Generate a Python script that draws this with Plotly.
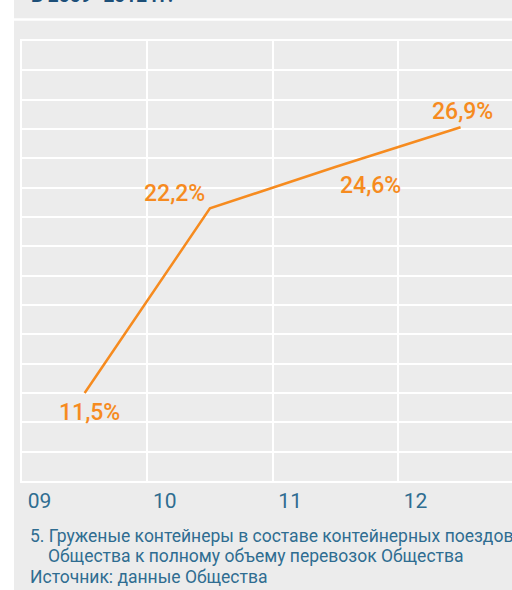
import plotly.graph_objects as go

# ---- data ----
years = [2009, 2010, 2011, 2012]
year_labels = ["09", "10", "11", "12"]
share = [11.5, 22.2, 24.6, 26.9]

title_text = "В 2009–2012 гг."
note_lines = [
    "5. Груженые контейнеры в составе контейнерных поездов",
    "Общества к полному объему перевозок Общества",
    "Источник: данные Общества",
]

ORANGE = "#f68b1f"
TEAL = "#2f6d91"
NAVY = "#1d4f78"
PANEL = "#ececec"

W, H = 512, 590
L, R, T, B = 22, 0, 41, 109
PW, PH = W - L - R, H - T - B

# label offsets (px) relative to each point: (dx, dy up)
label_offsets = [(5, -19), (-35, 15), (35, -19), (2, 16)]


def px_x(p):
    return (p - L) / PW


def px_y(p):
    return (H - B - p) / PH


labels = [f"{v:.1f}".replace(".", ",") + "%" for v in share]

fig = go.Figure()
fig.add_trace(go.Scatter(
    x=years, y=share, mode="lines",
    line=dict(color=ORANGE, width=2.5),
    cliponaxis=False, hoverinfo="skip", showlegend=False,
))

col_w = 125.3
span = PW / col_w
fig.update_xaxes(
    range=[years[0] - 0.5, years[0] - 0.5 + span],
    tickmode="array",
    tickvals=[y - 0.5 for y in years],
    ticktext=year_labels,
    ticklabelposition="outside right",
    ticklabelshift=5,
    ticks="", showgrid=True, gridcolor="white", gridwidth=1.5,
    showline=True, linecolor="white", linewidth=1.5, mirror=True,
    zeroline=False,
    tickfont=dict(family="Roboto", size=21, color=TEAL),
    ticklabelstandoff=0,
)
fig.update_yaxes(
    range=[6.4, 31.9], tick0=6.4, dtick=1.7,
    showticklabels=False, ticks="",
    showgrid=True, gridcolor="white", gridwidth=1.5,
    showline=True, linecolor="white", linewidth=1.5, mirror=False,
    zeroline=False,
)

shapes = [
    dict(type="rect", xref="paper", yref="paper",
         x0=px_x(0), x1=px_x(14), y0=px_y(H), y1=px_y(0),
         fillcolor="white", line=dict(width=0), layer="below"),
    dict(type="line", xref="paper", yref="paper",
         x0=px_x(14), x1=px_x(W), y0=px_y(19.5), y1=px_y(19.5),
         line=dict(color="white", width=2.5), layer="below"),
]

annotations = [
    dict(text=lab, x=xv, y=yv, xref="x", yref="y",
         xshift=dx, yshift=dy, xanchor="center", yanchor="middle",
         showarrow=False,
         font=dict(family="Roboto", size=23, color=ORANGE, weight=500))
    for lab, xv, yv, (dx, dy) in zip(labels, years, share, label_offsets)
]

annotations += [
    dict(text=title_text, xref="paper", yref="paper",
         x=px_x(29), y=px_y(9), xanchor="left", yanchor="bottom",
         showarrow=False, font=dict(family="Roboto", size=19, color=NAVY, weight="bold")),
    dict(text=note_lines[0], xref="paper", yref="paper",
         x=px_x(28), y=px_y(536), xanchor="left", yanchor="middle",
         showarrow=False, font=dict(family="Roboto", size=17.5, color=TEAL)),
    dict(text=note_lines[1], xref="paper", yref="paper",
         x=px_x(46), y=px_y(556), xanchor="left", yanchor="middle",
         showarrow=False, font=dict(family="Roboto", size=17.5, color=TEAL)),
    dict(text=note_lines[2], xref="paper", yref="paper",
         x=px_x(28), y=px_y(577), xanchor="left", yanchor="middle",
         showarrow=False, font=dict(family="Roboto", size=17.5, color=TEAL)),
]

fig.update_layout(
    width=W, height=H,
    margin=dict(l=L, r=R, t=T, b=B),
    paper_bgcolor=PANEL, plot_bgcolor=PANEL,
    shapes=shapes, annotations=annotations,
    showlegend=False,
)

fig.write_html(
    "out.html",
    config={"displayModeBar": False},
    post_script="document.body.style.margin='0';document.body.style.overflow='hidden';",
)
